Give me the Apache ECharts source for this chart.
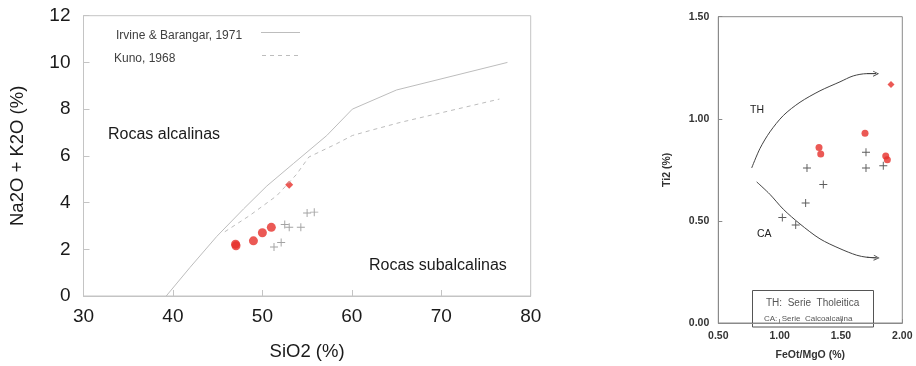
<!DOCTYPE html>
<html>
<head>
<meta charset="utf-8">
<script src="https://cdn.jsdelivr.net/npm/echarts@6/dist/echarts.min.js"></script>
<style>html,body{margin:0;padding:0;background:#fff;}#c{width:916px;height:366px;}</style>
</head>
<body>
<div id="c"></div>
<script>
// ---- Left panel: TAS (SiO2 vs Na2O+K2O) ----
const tasCircleSiO2 = [47.0, 47.05, 49.0, 50.0, 51.0];
const tasCircleAlk  = [2.22, 2.15, 2.36, 2.71, 2.94];
const tasDiamondSiO2 = [53.0];
const tasDiamondAlk  = [4.76];
const tasCrossSiO2 = [51.3, 52.1, 52.5, 53.0, 54.3, 55.0, 55.8];
const tasCrossAlk  = [2.10, 2.29, 3.06, 2.94, 2.94, 3.55, 3.59];
const irvineSiO2 = [39.25, 41.9, 44.9, 47.9, 50.5, 53.5, 57.2, 60.06, 65.0, 77.4];
const irvineAlk  = [0.0, 1.22, 2.55, 3.73, 4.71, 5.68, 6.87, 8.0, 8.82, 10.0];
const kunoSiO2 = [45.8, 48.6, 51.6, 53.8, 55.2, 58.3, 60.06, 62.0, 65.4, 76.5];
const kunoAlk  = [2.75, 3.45, 4.29, 5.2, 5.95, 6.52, 6.87, 7.08, 7.43, 8.43];
const tasXTicks = [30, 40, 50, 60, 70, 80];
const tasYTicks = [0, 2, 4, 6, 8, 10, 12];

// ---- Right panel: FeOt/MgO vs TiO2 ----
const feRedX = [1.321, 1.335, 1.696, 1.865, 1.878];
const feRedY = [0.859, 0.828, 0.929, 0.818, 0.799];
const feDiamondX = [1.908];
const feDiamondY = [1.168];
const feCrossX = [1.223, 1.356, 1.212, 1.022, 1.131, 1.704, 1.704, 1.845];
const feCrossY = [0.759, 0.678, 0.588, 0.517, 0.480, 0.836, 0.759, 0.770];
const thCurveX = [0.772, 0.84, 0.921, 1.03, 1.166, 1.329, 1.492, 1.60, 1.71, 1.786];
const thCurveY = [0.759, 0.855, 0.936, 1.016, 1.081, 1.137, 1.181, 1.21, 1.221, 1.221];
const caCurveX = [0.813, 0.921, 1.03, 1.166, 1.329, 1.492, 1.628, 1.71, 1.791];
const caCurveY = [0.691, 0.63, 0.557, 0.485, 0.412, 0.364, 0.332, 0.322, 0.319];
const feXTicks = [0.5, 1.0, 1.5, 2.0];
const feYTicks = [0.0, 0.5, 1.0, 1.5];

const zip = (a, b) => a.map((v, i) => [v, b[i]]);
const lastSeg = (a, b) => [[a[a.length-2], b[b.length-2]], [a[a.length-1], b[b.length-1]]];
const PLUS = 'path://M4.4,0 H5.6 V4.4 H10 V5.6 H5.6 V10 H4.4 V5.6 H0 V4.4 H4.4 Z';
const CHEVRON = 'path://M0,10 L5,0 L10,10 L8.6,10 L5,2.8 L1.4,10 Z';
const FONT = 'Liberation Sans, Arial, sans-serif';
const RED = '#e6302b';

const chart = echarts.init(document.getElementById('c'), null, {renderer: 'canvas'});
const leftAxisCommon = {
  axisLine: {lineStyle: {color: '#c4c4c4', width: 1}},
  axisTick: {inside: true, length: 6, lineStyle: {color: '#c4c4c4'}},
  splitLine: {show: false},
  axisLabel: {color: '#1a1a1a', fontSize: 19, fontFamily: FONT},
  nameTextStyle: {color: '#1a1a1a', fontSize: 18.5, fontFamily: FONT}
};
const rightAxisCommon = {
  axisLine: {lineStyle: {color: '#8a8a8a', width: 1}},
  axisTick: {inside: true, length: 4, lineStyle: {color: '#8a8a8a'}},
  splitLine: {show: false},
  axisLabel: {color: '#333', fontSize: 10.5, fontWeight: 'bold', fontFamily: FONT,
              formatter: v => v.toFixed(2)},
  nameTextStyle: {color: '#333', fontSize: 10.5, fontWeight: 'bold', fontFamily: FONT}
};

chart.setOption({
  animation: false,
  backgroundColor: '#fff',
  grid: [
    {left: 83.5, right: 385.3, top: 15.7, bottom: 63.5, show: true, borderColor: '#c4c4c4', borderWidth: 1},
    {left: 718.3, right: 13.7, top: 16.7, bottom: 39, show: true, borderColor: '#8a8a8a', borderWidth: 1}
  ],
  xAxis: [
    Object.assign({}, leftAxisCommon, {gridIndex: 0, type: 'value', min: tasXTicks[0], max: tasXTicks[tasXTicks.length-1], interval: 10,
      name: 'SiO2 (%)', nameLocation: 'middle', nameGap: 46,
      axisLabel: Object.assign({}, leftAxisCommon.axisLabel, {margin: 11})}),
    Object.assign({}, rightAxisCommon, {gridIndex: 1, type: 'value', min: feXTicks[0], max: feXTicks[feXTicks.length-1], interval: 0.5,
      name: 'FeOt/MgO (%)', nameLocation: 'middle', nameGap: 27,
      axisLabel: Object.assign({}, rightAxisCommon.axisLabel, {margin: 8})})
  ],
  yAxis: [
    Object.assign({}, leftAxisCommon, {gridIndex: 0, type: 'value', min: tasYTicks[0], max: tasYTicks[tasYTicks.length-1], interval: 2,
      name: 'Na2O + K2O (%)', nameLocation: 'middle', nameGap: 56,
      axisLabel: Object.assign({}, leftAxisCommon.axisLabel, {margin: 13})}),
    Object.assign({}, rightAxisCommon, {gridIndex: 1, type: 'value', min: feYTicks[0], max: feYTicks[feYTicks.length-1], interval: 0.5,
      name: 'Ti2 (%)', nameLocation: 'middle', nameGap: 46,
      axisLabel: Object.assign({}, rightAxisCommon.axisLabel, {margin: 9})})
  ],
  series: [
    {type: 'line', xAxisIndex: 0, yAxisIndex: 0, data: zip(irvineSiO2, irvineAlk), showSymbol: false, symbol: 'none',
     lineStyle: {color: '#bdbdbd', width: 1}},
    {type: 'line', xAxisIndex: 0, yAxisIndex: 0, data: zip(kunoSiO2, kunoAlk), showSymbol: false, symbol: 'none',
     lineStyle: {color: '#bdbdbd', width: 1, type: [4, 4]}},
    {type: 'scatter', xAxisIndex: 0, yAxisIndex: 0, data: zip(tasCrossSiO2, tasCrossAlk), symbol: PLUS, symbolSize: 8,
     itemStyle: {color: '#8c8c8c'}},
    {type: 'scatter', xAxisIndex: 0, yAxisIndex: 0, data: zip(tasCircleSiO2, tasCircleAlk), symbol: 'circle', symbolSize: 9,
     itemStyle: {color: RED}},
    {type: 'scatter', xAxisIndex: 0, yAxisIndex: 0, data: zip(tasDiamondSiO2, tasDiamondAlk), symbol: 'diamond', symbolSize: 8,
     itemStyle: {color: RED}},
    {type: 'line', xAxisIndex: 1, yAxisIndex: 1, data: zip(thCurveX, thCurveY), showSymbol: false, symbol: 'none', smooth: 0.3,
     lineStyle: {color: '#444', width: 1}},
    {type: 'line', xAxisIndex: 1, yAxisIndex: 1, data: zip(caCurveX, caCurveY), showSymbol: false, symbol: 'none', smooth: 0.3,
     lineStyle: {color: '#444', width: 1}},
    {type: 'lines', coordinateSystem: 'cartesian2d', xAxisIndex: 1, yAxisIndex: 1,
     symbol: ['none', CHEVRON], symbolSize: [7, 6],
     lineStyle: {color: '#444', width: 1, opacity: 1, curveness: 0},
     data: [{coords: lastSeg(thCurveX, thCurveY)}, {coords: lastSeg(caCurveX, caCurveY)}]},
    {type: 'scatter', xAxisIndex: 1, yAxisIndex: 1, data: zip(feCrossX, feCrossY), symbol: PLUS, symbolSize: 8,
     itemStyle: {color: '#333'}},
    {type: 'scatter', xAxisIndex: 1, yAxisIndex: 1, data: zip(feRedX, feRedY), symbol: 'circle', symbolSize: 7,
     itemStyle: {color: RED}},
    {type: 'scatter', xAxisIndex: 1, yAxisIndex: 1, data: zip(feDiamondX, feDiamondY), symbol: 'diamond', symbolSize: 7,
     itemStyle: {color: RED}}
  ],
  graphic: [
    {type: 'text', x: 116, y: 36, style: {text: 'Irvine & Barangar, 1971', fill: '#404040', font: '12px ' + FONT, textAlign: 'left', textVerticalAlign: 'middle'}},
    {type: 'line', shape: {x1: 261, y1: 32.5, x2: 300, y2: 32.5}, style: {stroke: '#bdbdbd', lineWidth: 1}},
    {type: 'text', x: 114, y: 58.3, style: {text: 'Kuno, 1968', fill: '#404040', font: '12px ' + FONT, textAlign: 'left', textVerticalAlign: 'middle'}},
    {type: 'line', shape: {x1: 262, y1: 55.5, x2: 300, y2: 55.5}, style: {stroke: '#bdbdbd', lineWidth: 1, lineDash: [4, 4]}},
    {type: 'text', x: 108, y: 135, style: {text: 'Rocas alcalinas', fill: '#1a1a1a', font: '16px ' + FONT, textAlign: 'left', textVerticalAlign: 'middle'}},
    {type: 'text', x: 369, y: 266, style: {text: 'Rocas subalcalinas', fill: '#1a1a1a', font: '16px ' + FONT, textAlign: 'left', textVerticalAlign: 'middle'}},
    {type: 'text', x: 750, y: 110, style: {text: 'TH', fill: '#222', font: '10.5px ' + FONT, textAlign: 'left', textVerticalAlign: 'middle'}},
    {type: 'text', x: 757, y: 234.5, style: {text: 'CA', fill: '#222', font: '10.5px ' + FONT, textAlign: 'left', textVerticalAlign: 'middle'}},
    {type: 'rect', shape: {x: 752.5, y: 290.5, width: 121, height: 36.5}, style: {fill: 'none', stroke: '#555', lineWidth: 1}},
    {type: 'text', x: 766, y: 303, style: {text: 'TH:  Serie  Tholeitica', fill: '#555', font: '10px ' + FONT, textAlign: 'left', textVerticalAlign: 'middle'}},
    {type: 'text', x: 764, y: 318.3, style: {text: 'CA:  Serie  Calcoalcalina', fill: '#555', font: '8px ' + FONT, textAlign: 'left', textVerticalAlign: 'middle'}}
  ]
});
</script>
</body>
</html>
